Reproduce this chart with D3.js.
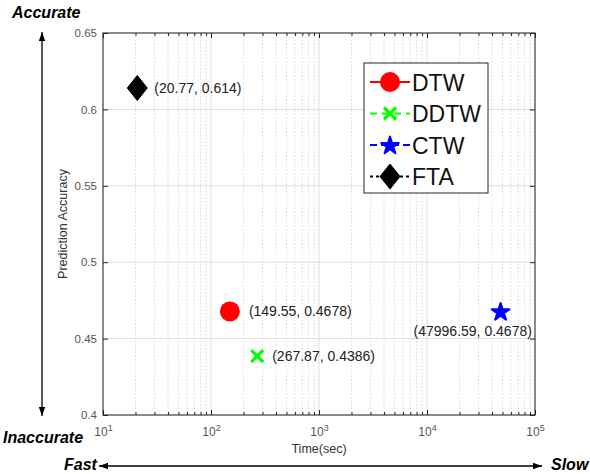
<!DOCTYPE html>
<html>
<head>
<meta charset="utf-8">
<script src="https://cdn.jsdelivr.net/npm/d3@7"></script>
<style>
  html, body { margin: 0; padding: 0; background: #fff; }
  svg { display: block; font-family: "Liberation Sans", Arial, sans-serif; }
</style>
</head>
<body>
<svg id="chart" width="590" height="474"></svg>
<script>
// Methods compared, with their run time (seconds) and prediction accuracy
const methods = ["DTW", "DDTW", "CTW", "FTA"];
const times = [149.55, 267.87, 47996.59, 20.77];
const accuracies = [0.4678, 0.4386, 0.4678, 0.614];
const pointLabels = ["(149.55, 0.4678)", "(267.87, 0.4386)", "(47996.59, 0.4678)", "(20.77, 0.614)"];
const colors = ["#ff0000", "#00ff00", "#0000ff", "#000000"];
const yTicks = [0.4, 0.45, 0.5, 0.55, 0.6, 0.65];
const xDecades = [10, 100, 1000, 10000, 100000];

const svg = d3.select("#chart");
const m = { left: 103, right: 535, top: 33, bottom: 415 };

const x = d3.scaleLog().domain([10, 100000]).range([m.left, m.right]);
const y = d3.scaleLinear().domain([0.4, 0.65]).range([m.bottom, m.top]);

// minor ticks: 2..9 of each decade
const minor = [];
for (let d = 10; d < 100000; d *= 10) for (let k = 2; k <= 9; k++) minor.push(d * k);

const grid = svg.append("g");
grid.selectAll(".mx").data(minor).join("line")
  .attr("x1", d => x(d)).attr("x2", d => x(d))
  .attr("y1", m.top).attr("y2", m.bottom)
  .attr("stroke", "#cfcfcf").attr("stroke-width", 0.8).attr("stroke-dasharray", "1.5,2");
grid.selectAll(".Mx").data(xDecades).join("line")
  .attr("x1", d => x(d)).attr("x2", d => x(d))
  .attr("y1", m.top).attr("y2", m.bottom)
  .attr("stroke", "#dedede").attr("stroke-width", 1);
grid.selectAll(".My").data(yTicks).join("line")
  .attr("x1", m.left).attr("x2", m.right)
  .attr("y1", d => y(d)).attr("y2", d => y(d))
  .attr("stroke", "#dedede").attr("stroke-width", 1);

// Axes with inward ticks on all four sides
const axisColor = "#262626";
const tickColor = "#555";
function styleAxis(g) {
  g.select(".domain").remove();
  g.selectAll("line").attr("stroke", axisColor);
  g.selectAll("text").attr("fill", tickColor).style("font-size", "11.5px")
    .style("font-family", "'Liberation Sans', Arial, sans-serif");
}

const xBottom = svg.append("g").attr("transform", `translate(0,${m.bottom})`)
  .call(d3.axisBottom(x).tickValues(xDecades).tickSize(-5).tickPadding(12).tickFormat(() => ""));
styleAxis(xBottom);
xBottom.selectAll(".tick").each(function (d) {
  const t = d3.select(this).select("text").text(null).style("font-size", "12px");
  t.append("tspan").text("10");
  t.append("tspan").attr("dy", "-0.45em").style("font-size", "9px").text(Math.round(Math.log10(d)));
});
svg.append("g").attr("transform", `translate(0,${m.bottom})`)
  .call(d3.axisBottom(x).tickValues(minor).tickSize(-3).tickFormat(() => ""))
  .call(styleAxis);
const xTop = svg.append("g").attr("transform", `translate(0,${m.top})`)
  .call(d3.axisTop(x).tickValues(xDecades).tickSize(-5).tickFormat(() => ""));
styleAxis(xTop);
svg.append("g").attr("transform", `translate(0,${m.top})`)
  .call(d3.axisTop(x).tickValues(minor).tickSize(-3).tickFormat(() => ""))
  .call(styleAxis);

svg.append("g").attr("transform", `translate(${m.left},0)`)
  .call(d3.axisLeft(y).tickValues(yTicks).tickSize(-5).tickPadding(6).tickFormat(d3.format("")))
  .call(styleAxis);
svg.append("g").attr("transform", `translate(${m.right},0)`)
  .call(d3.axisRight(y).tickValues(yTicks).tickSize(-5).tickFormat(() => ""))
  .call(styleAxis);

// plot box
svg.append("rect").attr("x", m.left).attr("y", m.top)
  .attr("width", m.right - m.left).attr("height", m.bottom - m.top)
  .attr("fill", "none").attr("stroke", axisColor).attr("stroke-width", 1);

// axis titles
svg.append("text").attr("x", (m.left + m.right) / 2).attr("y", 453)
  .attr("text-anchor", "middle").style("font-size", "12.5px").attr("fill", "#333")
  .text("Time(sec)");
svg.append("text").attr("transform", `translate(67,${(m.top + m.bottom) / 2}) rotate(-90)`)
  .attr("text-anchor", "middle").style("font-size", "12.5px").attr("fill", "#333")
  .text("Prediction Accuracy");

// marker shapes
function marker(g, i, cx, cy) {
  const c = colors[i];
  if (i === 0) {
    g.append("circle").attr("cx", cx).attr("cy", cy).attr("r", 10).attr("fill", c);
  } else if (i === 1) {
    const s = 6;
    g.append("path")
      .attr("d", `M${cx - s},${cy - s}L${cx + s},${cy + s}M${cx - s},${cy + s}L${cx + s},${cy - s}`)
      .attr("stroke", c).attr("stroke-width", 3.2).attr("fill", "none");
  } else if (i === 2) {
    g.append("path").attr("transform", `translate(${cx},${cy + 0.8})`)
      .attr("d", d3.symbol(d3.symbolStar, 95)())
      .attr("fill", c).attr("stroke", c).attr("stroke-width", 2).attr("stroke-linejoin", "round");
  } else {
    g.append("path")
      .attr("d", `M${cx},${cy - 12.5}L${cx + 10},${cy}L${cx},${cy + 12.5}L${cx - 10},${cy}Z`)
      .attr("fill", c).attr("stroke", c).attr("stroke-width", 1).attr("stroke-linejoin", "round");
  }
}

// data points and their value labels
const pts = svg.append("g");
const labelOffset = [[19, 5], [15, 5], [-87, 25], [17, 5]];
methods.forEach((name, i) => {
  const cx = x(times[i]), cy = y(accuracies[i]);
  marker(pts, i, cx, cy);
  pts.append("text").attr("x", cx + labelOffset[i][0]).attr("y", cy + labelOffset[i][1])
    .style("font-size", "14px").attr("fill", "#222").text(pointLabels[i]);
});

// legend
const lg = svg.append("g");
lg.append("rect").attr("x", 364).attr("y", 63).attr("width", 124).attr("height", 130)
  .attr("fill", "#fff").attr("stroke", axisColor).attr("stroke-width", 1);
const dashes = [null, "7,5", "7,4", "3,3"];
methods.forEach((name, i) => {
  const cy = 82 + i * 31.5;
  lg.append("line").attr("x1", 370).attr("x2", 410).attr("y1", cy).attr("y2", cy)
    .attr("stroke", colors[i]).attr("stroke-width", 2.2)
    .attr("stroke-dasharray", dashes[i]);
  marker(lg, i, 390, cy);
  lg.append("text").attr("x", 412).attr("y", cy + 8.5).style("font-size", "23px")
    .attr("fill", "#111").text(name);
});

// qualitative direction arrows
const defs = svg.append("defs");
defs.append("marker").attr("id", "ah").attr("viewBox", "0 0 10 10")
  .attr("refX", 10).attr("refY", 5).attr("markerWidth", 9).attr("markerHeight", 9)
  .attr("markerUnits", "userSpaceOnUse").attr("orient", "auto-start-reverse")
  .append("path").attr("d", "M0,1.5L10,5L0,8.5Z").attr("fill", "#000");

svg.append("line").attr("x1", 42).attr("x2", 42).attr("y1", 32).attr("y2", 416)
  .attr("stroke", "#000").attr("stroke-width", 1.3)
  .attr("marker-start", "url(#ah)").attr("marker-end", "url(#ah)");
svg.append("line").attr("x1", 99).attr("x2", 542).attr("y1", 466).attr("y2", 466)
  .attr("stroke", "#000").attr("stroke-width", 1.3)
  .attr("marker-start", "url(#ah)").attr("marker-end", "url(#ah)");

const bi = t => t.style("font-size", "16px").style("font-weight", "bold").style("font-style", "italic").attr("fill", "#000");
svg.append("text").attr("x", 12).attr("y", 18).text("Accurate").call(bi);
svg.append("text").attr("x", 3).attr("y", 443).text("Inaccurate").call(bi);
svg.append("text").attr("x", 64).attr("y", 470).text("Fast").call(bi);
svg.append("text").attr("x", 551).attr("y", 470).text("Slow").call(bi);
</script>
</body>
</html>
